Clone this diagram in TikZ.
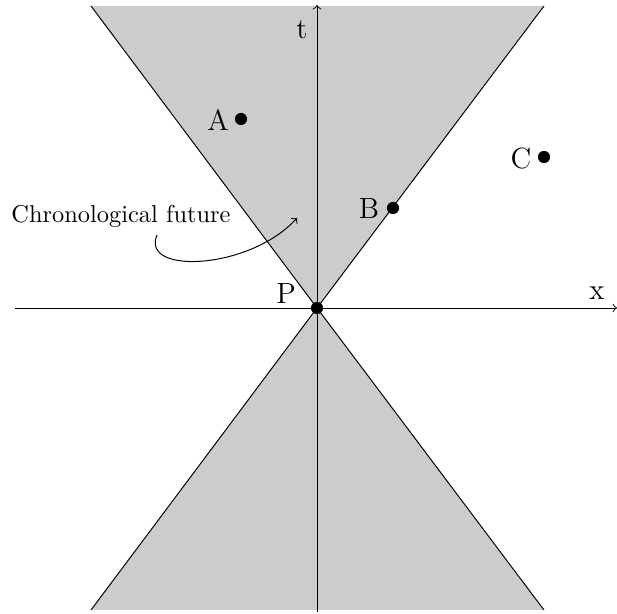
\documentclass[tikz,border=0pt]{standalone}
\begin{document}
\begin{tikzpicture}[x=0.41pt,y=-0.41pt,
  axis/.style={->,line width=0.4pt},
  cone/.style={fill=black!20,draw=black,line width=0.4pt},
  dotpt/.style={circle,fill=black,inner sep=0pt,minimum size=5pt},
  lbl/.style={font=\large,inner sep=0pt}]
\useasboundingbox (0,0) rectangle (617,614);
\coordinate (P) at (317,308);
\coordinate (TL) at (91,6);
\coordinate (TR) at (544,6);
\coordinate (BL) at (91,610);
\coordinate (BR) at (544,610);
\fill[black!20] (P) -- (TL) -- (TR) -- cycle;
\fill[black!20] (P) -- (BL) -- (BR) -- cycle;
\draw (TL) -- (P) -- (TR);
\draw (BL) -- (P) -- (BR);
\coordinate (xs) at (15,308);
\coordinate (xe) at (617,308);
\coordinate (ts) at (317,612);
\coordinate (te) at (317,5);
\draw[axis] (xs) -- (xe);
\draw[axis] (ts) -- (te);
\node[lbl] (tl) at (302,30) {t};
\node[lbl] (xl) at (597,293) {x};
\node[dotpt] (A) at (241,119) {};
\node[dotpt] (B) at (393,208) {};
\node[dotpt] (C) at (544,157) {};
\node[dotpt] (Pd) at (P) {};
\node[lbl] (Al) at (218,120) {A};
\node[lbl] (Bl) at (369,209) {B};
\node[lbl] (Cl) at (521,159) {C};
\node[lbl] (Pl) at (286,294) {P};
\node[inner sep=0pt] (cf) at (121,216) {Chronological future};
\coordinate (cfe) at (297,218);
\draw[->] (157,235) .. controls (140,275) and (250,270) .. (cfe);
\end{tikzpicture}
\end{document}
